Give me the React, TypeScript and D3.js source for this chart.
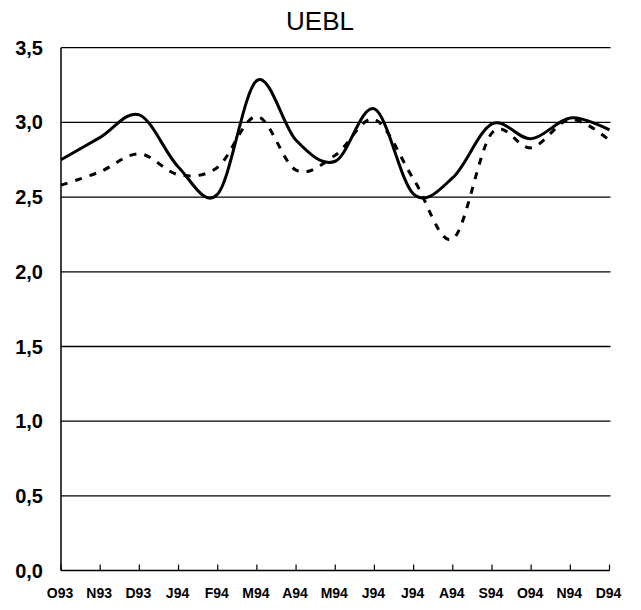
import React from "react";
import * as d3 from "d3";

const title = "UEBL";
const months = ["O93", "N93", "D93", "J94", "F94", "M94", "A94", "M94", "J94", "J94", "A94", "S94", "O94", "N94", "D94"];
const solidSeries = [2.75, 2.9, 3.05, 2.7, 2.52, 3.28, 2.88, 2.74, 3.09, 2.52, 2.63, 2.99, 2.89, 3.03, 2.95];
const dashedSeries = [2.58, 2.67, 2.79, 2.65, 2.7, 3.04, 2.68, 2.78, 3.02, 2.62, 2.22, 2.93, 2.83, 3.02, 2.88];
const yTicks = [0, 0.5, 1, 1.5, 2, 2.5, 3, 3.5];

const W = 641;
const H = 610;
const left = 61;
const right = 609.5;
const top = 47.7;
const bottom = 570.6;

export default function App() {
  const x = d3.scaleLinear().domain([0, months.length - 1]).range([left, right]);
  const y = d3.scaleLinear().domain([0, 3.5]).range([bottom, top]);
  const line = d3
    .line<number>()
    .x((_, i) => x(i))
    .y((d) => y(d))
    .curve(d3.curveCardinal.tension(0));
  const fmt = (v: number) => v.toFixed(1).replace(".", ",");
  const font = "'Liberation Sans', Arial, sans-serif";

  return (
    <svg
      width={W}
      height={H}
      viewBox={`0 0 ${W} ${H}`}
      style={{ position: "absolute", left: 0, top: 0, background: "#fff" }}
    >
      <rect x={0} y={0} width={W} height={H} fill="#fff" />
      <text x={320} y={30} textAnchor="middle" fontFamily={font} fontSize={26} fill="#000">
        {title}
      </text>
      {yTicks.map((t) => (
        <g key={t}>
          {t > 0 && (
            <line x1={left} x2={right + 1} y1={y(t)} y2={y(t)} stroke="#000" strokeWidth={1.3} />
          )}
          <text
            x={43}
            y={y(t) + 7}
            textAnchor="end"
            fontFamily={font}
            fontSize={20}
            fontWeight="bold"
            fill="#000"
          >
            {fmt(t)}
          </text>
        </g>
      ))}
      <line x1={left} x2={left} y1={top} y2={bottom} stroke="#000" strokeWidth={1.5} />
      <line x1={left} x2={right} y1={bottom} y2={bottom} stroke="#000" strokeWidth={1.5} />
      {months.map((m, i) => (
        <g key={i}>
          <line x1={x(i)} x2={x(i)} y1={bottom} y2={bottom - 6} stroke="#000" strokeWidth={1.2} />
          <text
            x={x(i) - 1}
            y={598}
            textAnchor="middle"
            fontFamily={font}
            fontSize={14}
            fontWeight="bold"
            fill="#000"
          >
            {m}
          </text>
        </g>
      ))}
      <path d={line(dashedSeries) || ""} fill="none" stroke="#000" strokeWidth={3} strokeDasharray="7,8" />
      <path d={line(solidSeries) || ""} fill="none" stroke="#000" strokeWidth={3} />
    </svg>
  );
}
